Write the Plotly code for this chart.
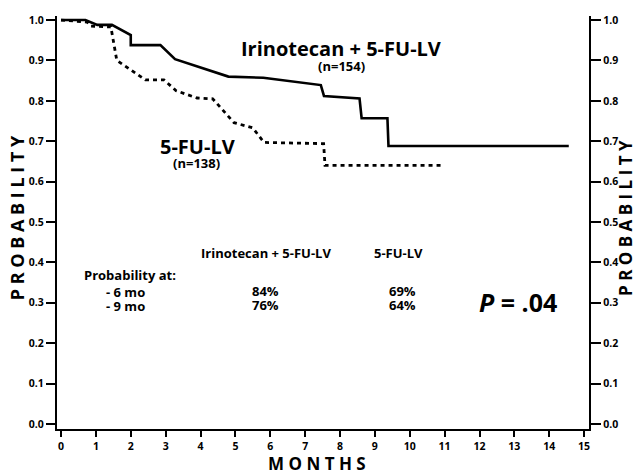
import plotly.graph_objects as go

# Data
months_combo = [0, 0.7, 1.04, 1.46, 2.0, 2.0, 2.85, 3.27, 4.8, 5.8, 7.45, 7.54, 8.56, 8.62, 9.36, 9.39, 14.56]
prob_combo = [1.0, 1.0, 0.988, 0.988, 0.963, 0.938, 0.938, 0.903, 0.860, 0.857, 0.839, 0.812, 0.806, 0.757, 0.757, 0.688, 0.688]

months_fu = [0, 0.75, 0.85, 1.43, 1.6, 2.42, 2.95, 3.3, 3.9, 4.35, 4.96, 5.5, 5.82, 7.53, 7.57, 10.92]
prob_fu = [1.0, 0.995, 0.985, 0.983, 0.90, 0.852, 0.852, 0.825, 0.807, 0.805, 0.746, 0.733, 0.697, 0.694, 0.640, 0.640]

x_ticks = list(range(0, 16))
y_ticks = [round(i * 0.1, 1) for i in range(11)]
y_ticklabels = [f"{v:.1f}" for v in y_ticks]

FONT = "Open Sans"

fig = go.Figure()
fig.add_trace(go.Scatter(x=months_combo, y=prob_combo, mode="lines",
                         line=dict(color="black", width=2.6), showlegend=False, hoverinfo="skip"))
fig.add_trace(go.Scatter(x=months_fu, y=prob_fu, mode="lines",
                         line=dict(color="black", width=2.8, dash="4px,4px"), showlegend=False, hoverinfo="skip"))
# invisible trace for the right axis
fig.add_trace(go.Scatter(x=[0], y=[0], yaxis="y2", mode="markers", marker=dict(opacity=0),
                         showlegend=False, hoverinfo="skip"))

tickfont = dict(family=FONT, size=10.5, color="black", weight="bold")

fig.update_layout(
    width=633, height=470,
    margin=dict(l=57, r=44, t=16, b=41),
    paper_bgcolor="white", plot_bgcolor="white",
    xaxis=dict(range=[-0.115, 15.14], tickvals=x_ticks, ticks="outside", ticklen=6, tickwidth=2,
               tickcolor="black", showline=True, linecolor="black", linewidth=2.2,
               showgrid=False, zeroline=False, tickfont=tickfont),
    yaxis=dict(range=[-0.0124, 1.01], tickvals=y_ticks, ticktext=y_ticklabels, ticks="outside",
               ticklen=9, tickwidth=2, tickcolor="black", showline=True, linecolor="black",
               linewidth=2.2, showgrid=False, zeroline=False, tickfont=tickfont),
    yaxis2=dict(range=[-0.0124, 1.01], tickvals=y_ticks, ticktext=y_ticklabels, ticks="outside",
                ticklen=10, tickwidth=2, tickcolor="black", showline=True, linecolor="black",
                linewidth=2.2, showgrid=False, zeroline=False, tickfont=tickfont,
                overlaying="y", side="right"),
)

def ann(text, x, y, size, xref="x", yref="y", angle=0):
    fig.add_annotation(text=text, x=x, y=y, xref=xref, yref=yref, showarrow=False,
                       textangle=angle, xanchor="center", yanchor="middle",
                       font=dict(family=FONT, size=size, color="black", weight="bold"))

ann("Irinotecan + 5-FU-LV", 8.03, 0.930, 20)
ann("(n=154)", 8.03, 0.886, 13)
ann("5-FU-LV", 3.91, 0.688, 20)
ann("(n=138)", 3.88, 0.645, 13)

ann("Irinotecan + 5-FU-LV", 5.88, 0.424, 13)
ann("5-FU-LV", 9.69, 0.424, 13)
ann("84%", 5.86, 0.328, 13)
ann("76%", 5.86, 0.295, 13)
ann("69%", 9.78, 0.328, 13)
ann("64%", 9.78, 0.295, 13)
ann("Probability at:", 1.97, 0.369, 13)
ann("- 6 mo", 1.86, 0.327, 13)
ann("- 9 mo", 1.86, 0.292, 13)
ann("<i>P</i> = .04", 13.1, 0.302, 25)

ann("P R O B A B I L I T Y", -0.0745, 0.511, 18, xref="paper", yref="paper", angle=-90)
ann("P R O B A B I L I T Y", 1.0695, 0.511, 17, xref="paper", yref="paper", angle=-90)
ann("M O N T H S", 0.489, -0.084, 17, xref="paper", yref="paper")

fig.write_html("out.html", config={"displayModeBar": False},
               post_script="document.body.style.margin='0';")
